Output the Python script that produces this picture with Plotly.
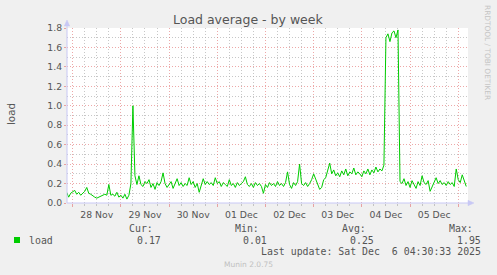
import pandas as pd
import plotly.graph_objects as go

# ---- data (hourly load averages) ----
start_time = "2025-11-27 21:00"
load_nov27 = [0.11, 0.06, 0.10]
load_nov28 = [0.12, 0.13, 0.09, 0.11, 0.08, 0.10, 0.12, 0.16, 0.10, 0.09, 0.07, 0.06,
              0.05, 0.06, 0.07, 0.08, 0.09, 0.08, 0.19, 0.08, 0.09, 0.07, 0.11, 0.06]
load_nov29 = [0.08, 0.05, 0.09, 0.04, 0.08, 0.20, 1.00, 0.28, 0.19, 0.28, 0.19, 0.17,
              0.22, 0.20, 0.24, 0.16, 0.20, 0.14, 0.21, 0.18, 0.22, 0.31, 0.20, 0.16]
load_nov30 = [0.19, 0.22, 0.15, 0.20, 0.25, 0.18, 0.21, 0.17, 0.20, 0.18, 0.26, 0.19,
              0.22, 0.16, 0.20, 0.11, 0.18, 0.25, 0.19, 0.22, 0.19, 0.21, 0.18, 0.26]
load_dec01 = [0.20, 0.22, 0.17, 0.21, 0.19, 0.17, 0.24, 0.18, 0.20, 0.16, 0.21, 0.18,
              0.20, 0.22, 0.27, 0.19, 0.17, 0.20, 0.16, 0.21, 0.18, 0.20, 0.17, 0.10]
load_dec02 = [0.19, 0.16, 0.21, 0.18, 0.20, 0.17, 0.22, 0.18, 0.20, 0.17, 0.21, 0.32,
              0.19, 0.15, 0.21, 0.18, 0.22, 0.40, 0.20, 0.18, 0.21, 0.17, 0.20, 0.24]
load_dec03 = [0.30, 0.24, 0.19, 0.14, 0.16, 0.24, 0.26, 0.33, 0.41, 0.30, 0.34, 0.28,
              0.31, 0.27, 0.33, 0.29, 0.35, 0.28, 0.32, 0.30, 0.36, 0.29, 0.32, 0.30]
load_dec04 = [0.27, 0.33, 0.30, 0.35, 0.29, 0.34, 0.31, 0.37, 0.32, 0.35, 0.33, 0.39,
              1.70, 1.74, 1.66, 1.75, 1.77, 1.70, 1.78, 0.22, 0.20, 0.25, 0.18, 0.22]
load_dec05 = [0.16, 0.23, 0.19, 0.15, 0.22, 0.18, 0.28, 0.21, 0.19, 0.23, 0.12, 0.17,
              0.21, 0.26, 0.20, 0.23, 0.19, 0.21, 0.18, 0.22, 0.19, 0.21, 0.17, 0.35]
load_dec06 = [0.24, 0.21, 0.29, 0.22, 0.17]

load_values = (load_nov27 + load_nov28 + load_nov29 + load_nov30 + load_dec01 +
               load_dec02 + load_dec03 + load_dec04 + load_dec05 + load_dec06)
times = pd.date_range(start_time, periods=len(load_values), freq="h")

title_text = "Load average - by week"
y_label = "load"
legend_name = "load"
stat_labels = ["Cur:", "Min:", "Avg:", "Max:"]
stat_values = ["0.17", "0.01", "0.25", "1.95"]
last_update = "Last update: Sat Dec  6 04:30:33 2025"
footer = "Munin 2.0.75"
watermark = "RRDTOOL / TOBI OETIKER"

# ---- layout geometry ----
W, H = 497, 275
L, R, T, B = 67, 29, 28, 72
PW, PH = W - L - R, H - T - B


def px(x):
    return (x - L) / PW


def py(y):
    return (T + PH - y) / PH


TXT = "#555555"
MAJOR = "rgba(225,110,110,0.6)"
MINOR = "rgba(175,175,175,0.7)"
AXIS = "#c8c8f5"
GREEN = "#00cc00"

fig = go.Figure()
fig.add_trace(go.Scatter(x=times, y=load_values, mode="lines",
                         line=dict(color=GREEN, width=1), name=legend_name,
                         showlegend=False, hoverinfo="skip"))

fig.update_layout(
    width=W, height=H, margin=dict(l=L, r=R, t=T, b=B),
    paper_bgcolor="#f0f0f0", plot_bgcolor="#ffffff",
    font=dict(family="DejaVu Sans", size=9.3, color=TXT),
    showlegend=False,
)

fig.update_xaxes(
    range=["2025-11-27 21:10", "2025-12-06 04:52"],
    type="date", tick0="2025-11-28", dtick=86400000,
    tickformat="%d %b", ticklabelmode="period",
    showgrid=True, gridcolor=MAJOR, gridwidth=1, griddash="1px,2px",
    ticks="outside", ticklen=3, tickcolor=MAJOR,
    showline=False, zeroline=False,
    tickfont=dict(family="DejaVu Sans", size=9.3, color=TXT),
    minor=dict(tick0="2025-11-28", dtick=21600000, showgrid=True,
               gridcolor=MINOR, gridwidth=1, griddash="1px,2px",
               ticks="outside", ticklen=2, tickcolor=MINOR),
)
fig.update_yaxes(
    range=[0, 1.8], tick0=0, dtick=0.2, tickformat=".1f",
    showgrid=True, gridcolor=MAJOR, gridwidth=1, griddash="1px,2px",
    ticks="outside", ticklen=2, tickcolor=MAJOR,
    showline=False, zeroline=False,
    tickfont=dict(family="DejaVu Sans", size=9.3, color=TXT),
    minor=dict(dtick=0.1, showgrid=True, gridcolor=MINOR, gridwidth=1,
               griddash="1px,2px"),
)

shapes = []
# axis lines with arrows
shapes.append(dict(type="line", xref="paper", yref="paper",
                   x0=px(67), x1=px(471), y0=0, y1=0, line=dict(color=AXIS, width=1)))
shapes.append(dict(type="line", xref="paper", yref="paper",
                   x0=0, x1=0, y0=0, y1=py(23), line=dict(color=AXIS, width=1)))
shapes.append(dict(type="path", xref="paper", yref="paper",
                   path=f"M {px(468)},{py(200.3)} L {px(474)},{py(203)} L {px(468)},{py(205.7)} Z",
                   fillcolor=AXIS, line=dict(color=AXIS, width=0.5)))
shapes.append(dict(type="path", xref="paper", yref="paper",
                   path=f"M {px(64.3)},{py(26)} L {px(67)},{py(20)} L {px(69.7)},{py(26)} Z",
                   fillcolor=AXIS, line=dict(color=AXIS, width=0.5)))
# legend square
shapes.append(dict(type="rect", xref="paper", yref="paper",
                   x0=px(14), x1=px(20), y0=py(243), y1=py(237),
                   fillcolor=GREEN, line=dict(width=0)))
fig.update_layout(shapes=shapes)

ann = []
ann.append(dict(text=title_text, x=px(248), y=py(19), xanchor="center", yanchor="middle",
                font=dict(family="DejaVu Sans", size=12.5, color=TXT)))
ann.append(dict(text=y_label, x=px(11), y=py(114), xanchor="center", yanchor="middle",
                textangle=-90, font=dict(family="DejaVu Sans", size=10.3, color=TXT)))
ann.append(dict(text=watermark, x=px(488), y=py(52), xanchor="center", yanchor="middle",
                textangle=90, font=dict(family="DejaVu Sans", size=7.4, color="#c4c4c4")))

MONO = dict(family="DejaVu Sans Mono", size=9.9, color=TXT)
label_x = [126.7, 233.3, 340.0, 446.7]
value_x = [162.5, 269.2, 375.8, 482.5]
for lx, lab in zip(label_x, stat_labels):
    ann.append(dict(text=lab, x=px(lx), y=py(228.3), xanchor="left", yanchor="middle", font=MONO))
for vx, val in zip(value_x, stat_values):
    ann.append(dict(text=val, x=px(vx), y=py(240), xanchor="right", yanchor="middle", font=MONO))
ann.append(dict(text=legend_name, x=px(26.7), y=py(240), xanchor="left", yanchor="middle", font=MONO))
ann.append(dict(text=last_update.replace(" ", "&nbsp;"), x=px(482.5), y=py(251.7),
                xanchor="right", yanchor="middle", font=MONO))
ann.append(dict(text=footer, x=px(248), y=py(264), xanchor="center", yanchor="middle",
                font=dict(family="DejaVu Sans", size=7.5, color="#c0c0c0")))
for a in ann:
    a.update(xref="paper", yref="paper", showarrow=False)
fig.update_layout(annotations=ann)

fig.write_html("out.html")
